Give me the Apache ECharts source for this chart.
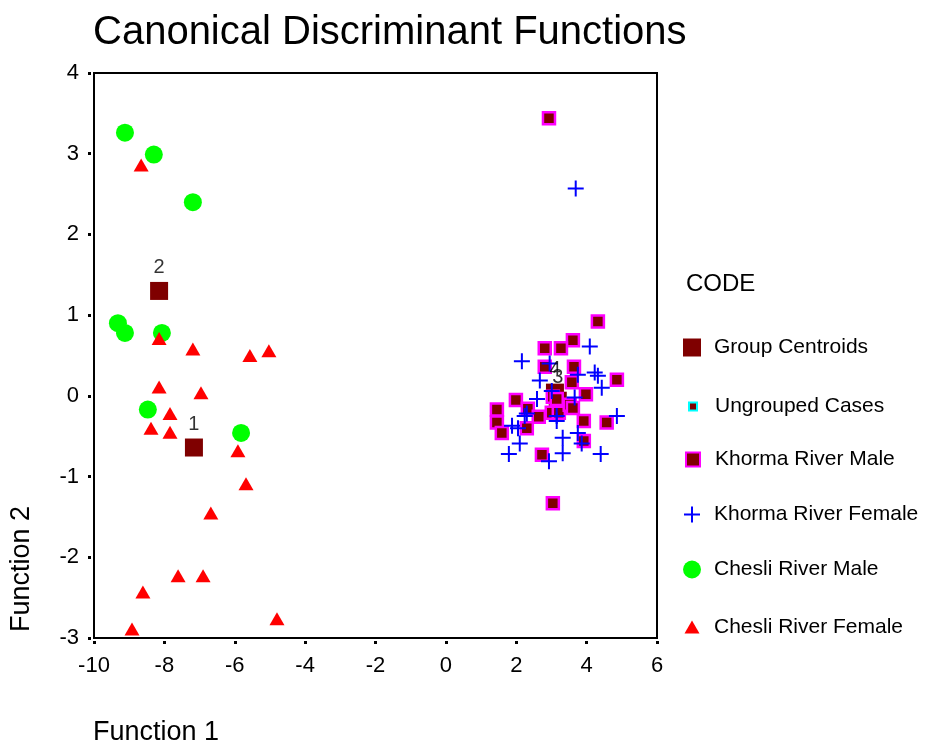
<!DOCTYPE html>
<html lang="en">
<head>
    <meta charset="UTF-8">
    <title>Canonical Discriminant Functions</title>
    <style>
        body { padding: 0; margin: 0; background-color: #FFFFFF; overflow: hidden; }
        #main_chart { width: 927px; height: 745px; }
    </style>
</head>
<body>
<div id="main_chart"></div>
<script type="text/javascript" src="https://cdn.jsdelivr.net/npm/echarts@6/dist/echarts.min.js"></script>
<script type="text/javascript">
var FONT = '"Liberation Sans", Arial, sans-serif';

// group centroids [f1, f2, label]
var centroids = [[-7.16, -0.64, '1'], [-8.15, 1.30, '2'], [3.18, -0.06, '3'], [3.10, 0.04, '4']];

var khormaMale = [
    [2.93, 3.44], [4.32, 0.92], [3.61, 0.69], [2.81, 0.59], [3.27, 0.59], [2.81, 0.36],
    [3.64, 0.36], [4.86, 0.20], [3.58, 0.17], [3.98, 0.02], [1.99, -0.05], [3.04, -0.01],
    [1.45, -0.17], [1.45, -0.33], [1.59, -0.46], [2.33, -0.16], [2.64, -0.26], [2.30, -0.40],
    [3.01, -0.21], [3.21, -0.21], [3.52, -0.11], [3.92, -0.31], [4.57, -0.33], [3.92, -0.56],
    [2.73, -0.73], [3.04, -1.33], [3.61, -0.15], [3.15, -0.04]
];

var khormaFemale = [
    [3.69, 2.57], [4.09, 0.61], [2.16, 0.43], [2.95, 0.40], [2.67, 0.19], [3.75, 0.26],
    [4.23, 0.29], [4.32, 0.25], [4.43, 0.10], [3.01, 0.06], [2.59, -0.04], [3.66, -0.02],
    [3.15, -0.25], [2.30, -0.22], [4.86, -0.25], [2.24, -0.25], [1.88, -0.37], [2.05, -0.40],
    [3.15, -0.31], [2.10, -0.59], [3.32, -0.52], [3.75, -0.46], [3.86, -0.59], [1.79, -0.72],
    [3.32, -0.71], [4.40, -0.72], [2.93, -0.81]
];

var chesliMale = [
    [-9.12, 3.26], [-8.30, 2.99], [-7.19, 2.40], [-9.32, 0.90],
    [-9.12, 0.78], [-8.07, 0.78], [-8.47, -0.17], [-5.82, -0.46]
];

var chesliFemale = [
    [-8.66, 2.86], [-8.15, 0.71], [-7.19, 0.58], [-5.57, 0.50], [-5.03, 0.56], [-8.15, 0.11],
    [-6.96, 0.04], [-7.84, -0.22], [-8.38, -0.40], [-7.84, -0.45], [-5.91, -0.68], [-5.68, -1.09],
    [-6.68, -1.45], [-7.61, -2.23], [-6.90, -2.23], [-8.61, -2.43], [-8.92, -2.89], [-4.80, -2.76]
];

var groupNames = ['Group Centroids', 'Ungrouped Cases', 'Khorma River Male',
    'Khorma River Female', 'Chesli River Male', 'Chesli River Female'];

var crossPath = 'path://M7,0H9V16H7ZM0,7H16V9H0Z';
var triPath = 'path://M8,0L16,14H0Z';
var squarePath = 'path://M0,0H10V10H0Z';

var dom = document.getElementById('main_chart');

// one legend box per row so each icon keeps its own size
function legendRow(name, icon, size, cy) {
    return {
        data: [{ name: name, icon: icon }],
        orient: 'vertical',
        left: 692 - size / 2,
        top: cy - size / 2,
        padding: 0,
        itemWidth: size,
        itemHeight: size,
        selectedMode: false,
        textStyle: {
            fontFamily: FONT, fontSize: 21, color: '#000',
            padding: [0, 0, 0, 714 - (692 + size / 2 + 5)]
        }
    };
}

var option = {
    animation: false,
    title: {
        text: 'Canonical Discriminant Functions',
        left: 88,
        top: 8,
        textStyle: { fontFamily: FONT, fontSize: 40, fontWeight: 'normal', color: '#000' }
    },
    legend: [
        legendRow(groupNames[0], squarePath, 18, 346),
        legendRow(groupNames[1], squarePath, 8, 400),
        legendRow(groupNames[2], squarePath, 14, 456),
        legendRow(groupNames[3], crossPath, 16, 512),
        legendRow(groupNames[4], 'circle', 18, 568),
        legendRow(groupNames[5], triPath, 15, 624)
    ],
    graphic: [
        { type: 'text', left: 686, top: 272, style: { text: 'CODE', font: '24px ' + FONT, fill: '#000' } },
        { type: 'text', left: 93, top: 719, style: { text: 'Function 1', font: '27px ' + FONT, fill: '#000' } },
        {
            type: 'text', x: 22, y: 569, rotation: Math.PI / 2,
            style: { text: 'Function 2', font: '27px ' + FONT, fill: '#000', align: 'center', verticalAlign: 'middle' }
        }
    ],
    grid: {
        left: 94, right: 270, top: 73, bottom: 107,
        show: true, borderColor: '#000', borderWidth: 2, backgroundColor: 'transparent'
    },
    xAxis: {
        type: 'value', min: -10, max: 6, interval: 2, offset: 3,
        axisLine: { show: false, onZero: false },
        axisTick: { show: true, length: 3, lineStyle: { color: '#000', width: 3 } },
        splitLine: { show: false },
        axisLabel: { fontFamily: FONT, fontSize: 22, color: '#000', margin: 14 }
    },
    yAxis: {
        type: 'value', min: -3, max: 4, interval: 1, offset: 3,
        axisLine: { show: false, onZero: false },
        axisTick: { show: true, length: 3, lineStyle: { color: '#000', width: 3 } },
        splitLine: { show: false },
        axisLabel: { fontFamily: FONT, fontSize: 22, color: '#000', margin: 12 }
    },
    series: [
        {
            name: groupNames[0], type: 'scatter', symbol: 'rect', symbolSize: 18, z: 1,
            itemStyle: { color: '#7f0000', opacity: 1 },
            data: centroids
        },
        {
            name: groupNames[1], type: 'scatter', symbol: 'rect', symbolSize: 6,
            itemStyle: { color: '#7f0000', borderColor: '#00ffff', borderWidth: 2, opacity: 1 },
            data: []
        },
        {
            name: groupNames[2], type: 'scatter', symbol: 'rect', symbolSize: 12, z: 2,
            itemStyle: { color: '#7f0000', borderColor: '#ff00ff', borderWidth: 2.5, opacity: 1 },
            data: khormaMale
        },
        {
            name: groupNames[3], type: 'scatter', symbol: crossPath, symbolSize: 16, z: 3,
            itemStyle: { color: '#0000ff', opacity: 1 },
            data: khormaFemale
        },
        {
            name: groupNames[4], type: 'scatter', symbol: 'circle', symbolSize: 18, z: 4,
            itemStyle: { color: '#00ff00', opacity: 1 },
            data: chesliMale
        },
        {
            name: groupNames[5], type: 'scatter', symbol: 'triangle', symbolSize: [15, 13], z: 5,
            itemStyle: { color: '#ff0000', opacity: 1 },
            data: chesliFemale
        },
        {
            // centroid numbers drawn above every point
            name: 'centroid labels', type: 'scatter', symbol: 'rect', symbolSize: 18, z: 6,
            silent: true,
            itemStyle: { color: 'rgba(0,0,0,0)' },
            label: {
                show: true, position: 'top', distance: 4,
                fontFamily: FONT, fontSize: 20, color: '#000',
                formatter: function (p) { return p.data[2]; }
            },
            data: centroids
        }
    ]
};

var chart = echarts.init(dom);
chart.setOption(option);
</script>
</body>
</html>
